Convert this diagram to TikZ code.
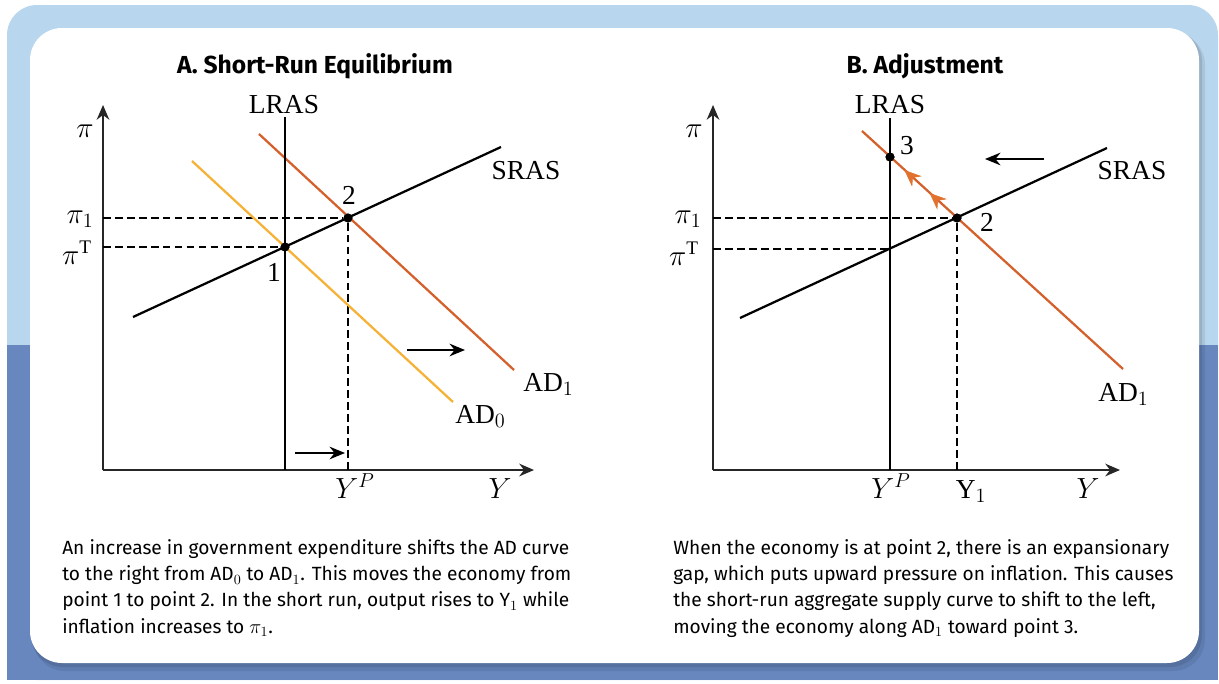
\documentclass[tikz,border=0pt]{standalone}
\usepackage{fontspec}
\setmainfont{Liberation Serif}
\newfontfamily\panelfont{Fira Sans}
\usetikzlibrary{arrows.meta,decorations.markings}
\definecolor{skyband}{HTML}{B8D6EE}
\definecolor{deepband}{HTML}{6887BF}
\definecolor{adone}{HTML}{D4602B}
\definecolor{adzero}{HTML}{F5B236}
\definecolor{shiftorange}{HTML}{E2712E}
\tikzset{
  axis/.style={line width=1.2pt, draw=black!85, -{Stealth[length=10.5pt,width=9pt]}},
  lras/.style={line width=1.9pt},
  curve/.style={line width=1.6pt},
  guide/.style={line width=0.9pt, dash pattern=on 5.5pt off 3pt},
  dot/.style={circle, fill=black, inner sep=0pt, minimum size=6.4pt},
  lbl/.style={font=\fontsize{19.5}{21}\selectfont, inner sep=0pt},
  panel/.style={font=\panelfont\bfseries\fontsize{17.5}{19}\selectfont, inner sep=0pt},
  caption/.style={font=\panelfont\fontsize{13.6}{18.5}\selectfont, align=left, inner sep=0pt},
  moveto/.style={line width=1.1pt, -{Stealth[length=11pt,width=9pt]}},
  uparrows/.style={decoration={markings,
      mark=at position 0.4 with {\arrow[shiftorange]{Stealth[length=12pt,width=10pt]}},
      mark=at position 0.82 with {\arrow[shiftorange]{Stealth[length=12pt,width=10pt]}}},
    postaction=decorate},
}
\begin{document}
\begin{tikzpicture}[>=stealth, x=0.025cm, y=-0.025cm]
\useasboundingbox (0,0) rectangle (1219,684);

\fill[skyband, rounded corners=0.75cm] (7,5) rectangle (1218,680);
\fill[deepband] (7,345) rectangle (1218,680);
\fill[black, opacity=0.08, rounded corners=0.8cm] (33,33) rectangle (1205,671);
\fill[black, opacity=0.10, rounded corners=0.8cm] (31,30) rectangle (1202,667);
\fill[white, rounded corners=0.8cm] (30,28) rectangle (1199,663);

% panel A
\node[panel, anchor=base] (titleA) at (315,73) {A. Short-Run Equilibrium};
\coordinate (oA) at (103,470);
\coordinate (topA) at (103,105);
\coordinate (endA) at (534,470);
\draw[axis] (oA) -- (topA);
\draw[axis] (oA) -- (endA);

\coordinate (lrasTopA) at (285,117);
\coordinate (lrasBotA) at (285,470);
\coordinate (srasLeftA) at (133,317);
\coordinate (srasRightA) at (501,147);
\coordinate (adOneTopA) at (259,134);
\coordinate (adOneBotA) at (514,370);
\coordinate (adZeroTopA) at (192,161);
\coordinate (adZeroBotA) at (453,402);
\node[dot] (pt1) at (285,247) {};
\node[dot] (pt2) at (348,218) {};
\coordinate (yOneA) at (348,470);
\coordinate (piOneA) at (103,218);
\coordinate (piTA) at (103,247);

\draw[guide] (piOneA) -- (pt2) -- (yOneA);
\draw[guide] (piTA) -- (pt1);
\draw[adzero, curve] (adZeroTopA) -- (adZeroBotA);
\draw[adone, curve] (adOneTopA) -- (adOneBotA);
\draw[lras] (lrasTopA) -- (lrasBotA);
\draw[curve] (srasLeftA) -- (srasRightA);
\node[dot] at (pt1) {};
\node[dot] at (pt2) {};

\node[lbl, anchor=base] (lrasA) at (284,113) {LRAS};
\node[lbl, anchor=base] (srasA) at (526,179) {SRAS};
\node[lbl, anchor=base west] (adOneA) at (523,391) {AD$_1$};
\node[lbl, anchor=base west] (adZeroA) at (455,423) {AD$_0$};
\node[lbl] (oneA) at (274,272) {1};
\node[lbl] (twoA) at (349,195) {2};
\node[lbl] (piA) at (85,131) {$\pi$};
\node[lbl] (piOneLblA) at (80,219) {$\pi_1$};
\node[lbl] (piTLblA) at (77,253) {$\pi^{\mathrm{T}}$};
\node[lbl, anchor=base] (ypA) at (355,498) {$Y^P$};
\node[lbl, anchor=base] (yA) at (500,498) {$Y$};

\coordinate (shiftFromA) at (407,350);
\coordinate (shiftToA) at (465,350);
\coordinate (outFromA) at (295,453);
\coordinate (outToA) at (345,453);
\draw[moveto] (shiftFromA) -- (shiftToA);
\draw[moveto] (outFromA) -- (outToA);

% panel B
\node[panel, anchor=base] (titleB) at (925,73) {B. Adjustment};
\coordinate (oB) at (713,470);
\coordinate (topB) at (713,105);
\coordinate (endB) at (1120,470);
\draw[axis] (oB) -- (topB);
\draw[axis] (oB) -- (endB);

\coordinate (lrasTopB) at (890,118);
\coordinate (lrasBotB) at (890,470);
\coordinate (srasLeftB) at (740,318);
\coordinate (srasRightB) at (1107,148);
\coordinate (adOneTopB) at (862,131);
\coordinate (adOneBotB) at (1123,369);
\node[dot] (pt3) at (890,157) {};
\node[dot] (pt2B) at (957,218) {};
\coordinate (meetB) at (890,249);
\coordinate (yOneB) at (957,470);
\coordinate (piOneB) at (713,218);
\coordinate (piTB) at (713,249);

\draw[guide] (piOneB) -- (pt2B) -- (yOneB);
\draw[guide] (piTB) -- (meetB);
\draw[adone, curve] (adOneTopB) -- (adOneBotB);
\path[uparrows] (pt2B) -- (pt3);
\draw[lras] (lrasTopB) -- (lrasBotB);
\draw[curve] (srasLeftB) -- (srasRightB);
\node[dot] at (pt3) {};
\node[dot] at (pt2B) {};

\node[lbl, anchor=base] (lrasB) at (890,113) {LRAS};
\node[lbl, anchor=base] (srasB) at (1132,179) {SRAS};
\node[lbl, anchor=base west] (adOneB) at (1098,401) {AD$_1$};
\node[lbl] (threeB) at (907,146) {3};
\node[lbl] (twoB) at (987,222) {2};
\node[lbl] (piB) at (694,131) {$\pi$};
\node[lbl] (piOneLblB) at (688,219) {$\pi_1$};
\node[lbl] (piTLblB) at (684,254) {$\pi^{\mathrm{T}}$};
\node[lbl, anchor=base] (ypB) at (891,498) {$Y^P$};
\node[lbl, anchor=base] (yOneLblB) at (971,498) {Y$_1$};
\node[lbl, anchor=base] (yB) at (1088,498) {$Y$};

\coordinate (shiftFromB) at (1044,159);
\coordinate (shiftToB) at (985,159);
\draw[moveto] (shiftFromB) -- (shiftToB);

% captions
\node[caption, anchor=base west] (capA) at (62,633) {An increase in government expenditure shifts the AD curve\\
to the right from AD$_0$ to AD$_1$. This moves the economy from\\
point 1 to point 2. In the short run, output rises to Y$_1$ while\\
inflation increases to $\pi_1$.};
\node[caption, anchor=base west] (capB) at (673,633) {When the economy is at point 2, there is an expansionary\\
gap, which puts upward pressure on inflation. This causes\\
the short-run aggregate supply curve to shift to the left,\\
moving the economy along AD$_1$ toward point 3.};
\end{tikzpicture}
\end{document}
